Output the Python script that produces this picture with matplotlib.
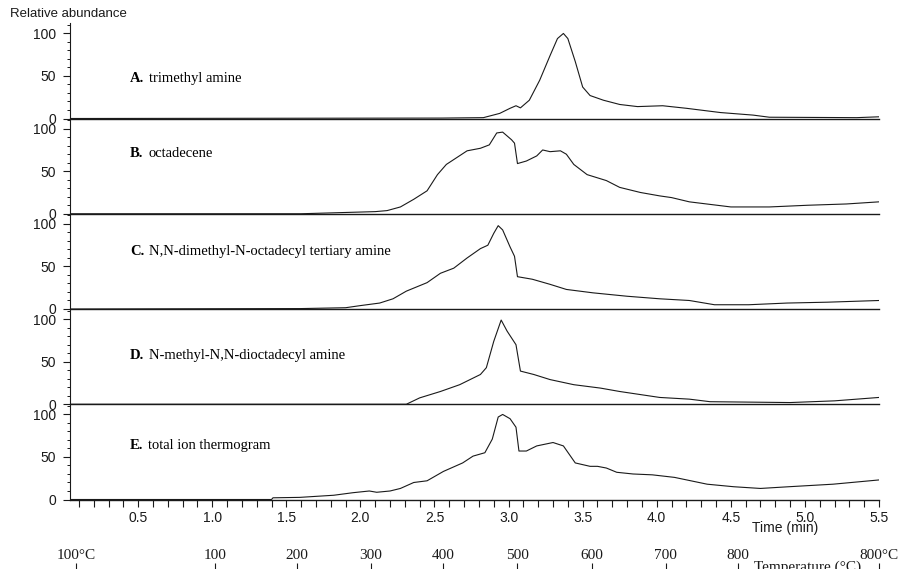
import matplotlib
matplotlib.use('Agg')
import matplotlib.pyplot as plt
from matplotlib.ticker import MultipleLocator

plt.rcParams['font.family'] = ['Liberation Sans', 'DejaVu Sans']

# --- data (time in min, relative abundance in %) ---
t_a = [0.04, 2.55, 2.83, 2.94, 3.01, 3.05, 3.08, 3.14, 3.21, 3.28, 3.33, 3.37,
       3.40, 3.45, 3.50, 3.55, 3.64, 3.75, 3.87, 4.04, 4.20, 4.43, 4.65, 4.76,
       5.35, 5.50]
v_a = [0, 0.5, 1, 6, 12, 15, 12.5, 21.5, 45, 74, 94, 100,
       94, 67, 37, 27, 21.5, 16.5, 14, 15, 12, 7, 4, 1.5,
       1, 2]

t_b = [0.04, 1.60, 1.90, 2.10, 2.18, 2.27, 2.36, 2.45, 2.52, 2.58, 2.65, 2.72,
       2.81, 2.87, 2.92, 2.96, 3.02, 3.04, 3.06, 3.12, 3.19, 3.23, 3.28, 3.35,
       3.39, 3.44, 3.53, 3.66, 3.75, 3.89, 4.02, 4.10, 4.22, 4.36, 4.50, 4.76,
       5.02, 5.28, 5.50]
v_b = [0, 0, 1.5, 2.5, 3.7, 8, 17, 27, 46, 58, 66, 74,
       77, 81, 95, 96, 87, 83, 59, 62, 68, 75, 73, 74,
       70, 58, 46, 39, 31, 25, 21, 19, 14, 11, 8, 8,
       10, 11.5, 14]

t_c = [0.04, 1.60, 1.90, 2.00, 2.13, 2.22, 2.31, 2.45, 2.54, 2.63, 2.72, 2.81,
       2.86, 2.90, 2.93, 2.96, 3.01, 3.04, 3.06, 3.16, 3.28, 3.39, 3.57, 3.80,
       4.02, 4.22, 4.39, 4.62, 4.88, 5.15, 5.50]
v_c = [0, 0.5, 1.5, 4, 7, 12, 21, 31, 42, 48, 60, 71,
       75, 89, 98, 93, 73, 62, 38, 35, 29, 23, 19, 15,
       12, 10, 5, 5, 7, 8, 10]

t_d = [0.04, 2.31, 2.40, 2.54, 2.67, 2.81, 2.85, 2.90, 2.95, 2.99, 3.02, 3.05,
       3.08, 3.17, 3.28, 3.44, 3.62, 3.75, 4.02, 4.22, 4.36, 4.90, 5.20, 5.50]
v_d = [0, 0, 7.5, 15, 23, 35, 43, 74, 99, 86, 78, 70,
       39, 35, 29, 23, 19, 15, 8, 6, 3, 2, 4, 8]

t_e = [0.04, 1.40, 1.41, 1.59, 1.82, 1.95, 2.06, 2.11, 2.20, 2.27, 2.36, 2.45,
       2.56, 2.69, 2.76, 2.84, 2.89, 2.93, 2.96, 3.01, 3.05, 3.07, 3.12, 3.19,
       3.30, 3.37, 3.45, 3.55, 3.60, 3.66, 3.73, 3.84, 3.97, 4.12, 4.34, 4.52,
       4.70, 4.89, 5.19, 5.50]
v_e = [0, 0, 2, 2.5, 5, 8, 10, 8.5, 10, 13, 20, 22,
       33, 43, 51, 55, 71, 97, 100, 95, 85, 57, 57, 63,
       67, 63, 43, 39, 39, 37, 32, 30, 29, 26, 18, 15,
       13, 15, 18, 23]

letters = ['A.', 'B.', 'C.', 'D.', 'E.']
names = ['trimethyl amine', 'octadecene',
         'N,N-dimethyl-N-octadecyl tertiary amine',
         'N-methyl-N,N-dioctadecyl amine', 'total ion thermogram']
label_y = [47, 71, 68, 57, 64]

temp_ticks = [0.08, 1.02, 1.57, 2.07, 2.56, 3.06, 3.56, 4.06, 4.55, 5.50]
temp_labels = ['100°C', '100', '200', '300', '400', '500', '600', '700',
               '800', '800°C']

series = [(t_a, v_a), (t_b, v_b), (t_c, v_c), (t_d, v_d), (t_e, v_e)]

W, H = 910, 569
fig = plt.figure(figsize=(W / 100, H / 100), dpi=100)

x0, x1 = 70, 879          # pixel extent of the time axis
pitch = 95.25             # pixel height of one panel
first_bottom = 118.5
xlim = (0.04, 5.5)
ink = '#1a1a1a'

axes = []
for i, (t, v) in enumerate(series):
    bottom_px = first_bottom + pitch * i
    ax = fig.add_axes([x0 / W, 1 - bottom_px / H, (x1 - x0) / W, pitch / H])
    ax.plot(t, v, color=ink, lw=0.8)
    ax.set_xlim(*xlim)
    ax.set_ylim(0, 112)
    for s in ['top', 'right']:
        ax.spines[s].set_visible(False)
    ax.spines['left'].set_linewidth(0.8)
    ax.spines['bottom'].set_linewidth(1.0)
    ax.spines['left'].set_color(ink)
    ax.spines['bottom'].set_color(ink)
    ax.patch.set_alpha(0)
    ax.set_yticks([0, 50, 100])
    ax.yaxis.set_minor_locator(MultipleLocator(10))
    ax.tick_params(axis='y', which='major', length=5, width=0.8, pad=5,
                   labelsize=10, colors=ink)
    ax.tick_params(axis='y', which='minor', length=2.2, width=0.7, colors=ink)
    tb = ax.text(0.445, label_y[i], letters[i], fontsize=10.5,
                 family='Liberation Serif', fontweight='bold', va='center')
    ax.annotate(names[i], xy=(1, 0), xycoords=tb, xytext=(3.5, 0),
                textcoords='offset points', va='bottom', fontsize=10.5,
                family='Liberation Serif')
    if i < 4:
        ax.set_xticks([])
    else:
        ax.xaxis.set_major_locator(MultipleLocator(0.5))
        ax.xaxis.set_minor_locator(MultipleLocator(0.1))
        ax.set_xticks([0.5, 1.0, 1.5, 2.0, 2.5, 3.0, 3.5, 4.0, 4.5, 5.0, 5.5])
        ax.tick_params(axis='x', which='both', length=5, width=0.8, pad=3,
                       labelsize=10, colors=ink)
    axes.append(ax)

# temperature scale along the very bottom
axt = fig.add_axes([x0 / W, 0, (x1 - x0) / W, 1 - 563 / H])
axt.set_xlim(*xlim)
axt.patch.set_alpha(0)
for s in axt.spines.values():
    s.set_visible(False)
axt.set_yticks([])
axt.xaxis.tick_top()
axt.set_xticks(temp_ticks)
axt.set_xticklabels(temp_labels, family='Liberation Serif', fontsize=11)
axt.tick_params(axis='x', direction='in', length=8, width=0.8, pad=1,
                colors=ink)

fig.text(10 / W, 1 - 14 / H, 'Relative abundance', fontsize=9.5,
         va='center', ha='left', color=ink)
fig.text(785 / W, 1 - 528 / H, 'Time (min)', fontsize=10, ha='center',
         va='center', color=ink)
fig.text(808 / W, 1 - 561 / H, 'Temperature (°C)', fontsize=11,
         family='Liberation Serif', ha='center', va='top', color=ink)

fig.savefig('out.png', dpi=100)
